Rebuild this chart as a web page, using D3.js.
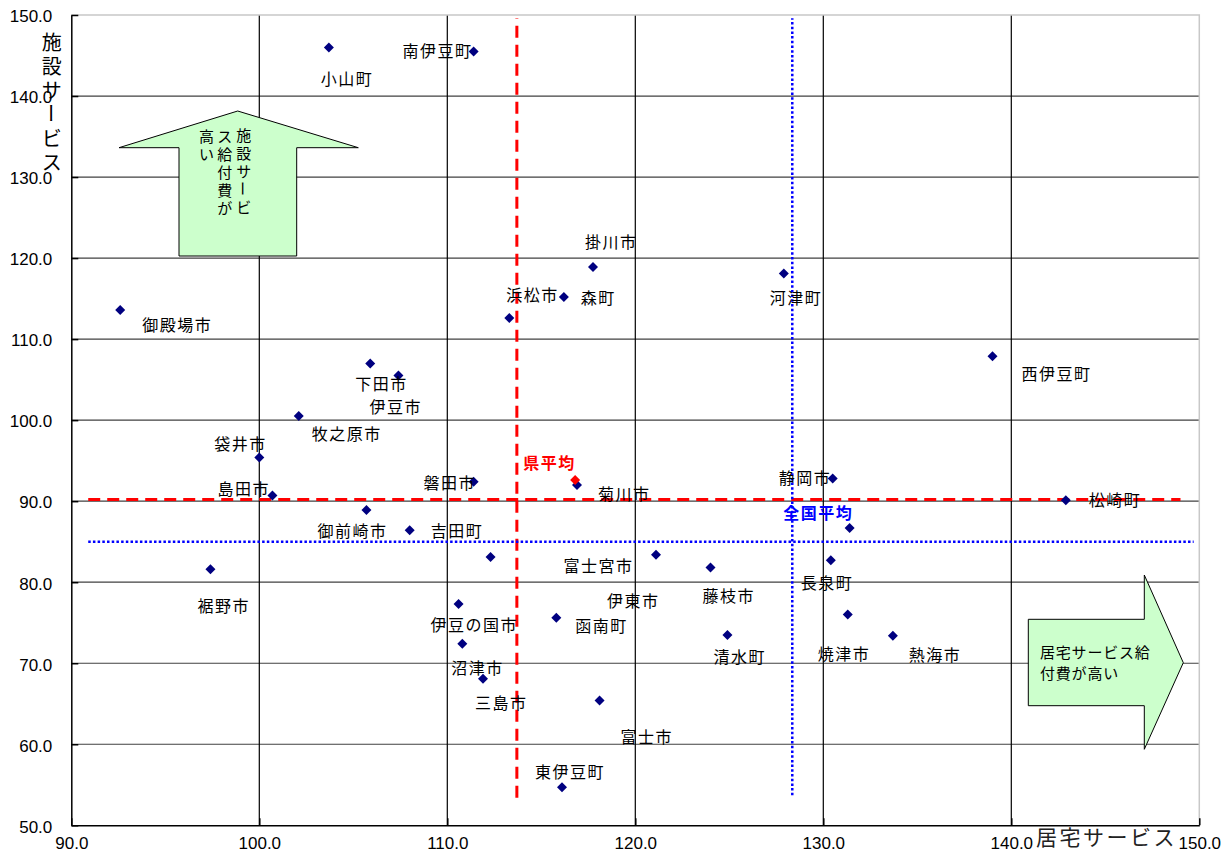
<!DOCTYPE html>
<meta charset="utf-8">
<style>
body { margin: 0; background: #fff; }
.tick text { font: 17px "Liberation Sans", Arial, sans-serif; fill: #000; }
.lbl { font: 16px "Noto Sans CJK JP", sans-serif; letter-spacing: 1.5px; fill: #000; }
.jp { font-family: "Noto Sans CJK JP", sans-serif; fill: #000; }
</style>
<svg width="1231" height="854"></svg>
<script src="https://d3js.org/d3.v7.min.js"></script>
<script>

// 市町名、居宅サービス給付費(指数)、施設サービス給付費(指数)
var names = ["小山町","南伊豆町","掛川市","河津町","森町","浜松市","御殿場市","下田市","伊豆市",
  "牧之原市","袋井市","島田市","御前崎市","吉田町","裾野市","磐田市","菊川市","静岡市","松崎町",
  "西伊豆町","長泉町","富士宮市","伊東市","藤枝市","伊豆の国市","函南町","沼津市","三島市","富士市",
  "東伊豆町","清水町","焼津市","熱海市",""];
var kyotaku = [103.7,111.4,117.75,127.9,116.2,113.3,92.6,105.9,107.4,
  102.1,100.0,100.7,105.7,108.0,97.4,111.4,116.9,130.5,142.9,
  139.0,130.4,112.3,121.1,124.0,110.6,115.8,110.8,111.9,118.1,
  116.1,124.9,131.3,133.7,131.4];
var shisetsu = [146.0,145.5,118.9,118.1,115.2,112.6,113.6,107.0,105.5,
  100.5,95.4,90.7,88.9,86.4,81.6,92.4,92.0,92.8,90.1,
  107.9,82.7,83.1,83.4,81.8,77.3,75.6,72.4,68.1,65.4,
  54.7,73.5,76.0,73.4,86.7];

// 県平均の点と平均線
var prefPoint = [116.8, 92.6];
var prefAvg = [113.7, 90.2];
var prefLineX = [90.9, 149.0];   // 横線の範囲
var prefLineY = [53.4, 149.6];   // 縦線の範囲
var natAvg = [128.35, 85.0];
var natLineX = [90.9, 149.7];
var natLineY = [53.7, 149.6];

var xTicks = [90,100,110,120,130,140,150];
var yTicks = [50,60,70,80,90,100,110,120,130,140,150];

// label placement (pixels from the point) - done by hand like the original
var labelOffsets = [[-8,39],[-71,7],[-8,-18],[-14,32],[17,8],[-3,-16],[22,22],[-15,28],[-29,38],
  [13,25],[-45,-6],[-55,0],[-49,28],[21,8],[-13,44],[-50,8],[21,16],[-54,7],[23,7],
  [29,25],[-30,30],[73,16],[-49,53],[-8,35],[-28,28],[19,15],[-11,31],[-8,31],[21,43],
  [-27,-8],[-14,29],[-30,46],[16,26],[0,0]];

var svg = d3.select("svg");
var x = d3.scaleLinear().domain([90,150]).range([71.3,1199.3]);
var y = d3.scaleLinear().domain([50,150]).range([825.3,15]);

// grid
svg.append("g").selectAll("line").data(yTicks.slice(1,-1)).enter().append("line")
  .attr("x1", x(90)).attr("x2", x(150))
  .attr("y1", function(d){ return y(d); }).attr("y2", function(d){ return y(d); })
  .attr("stroke", "#404040").attr("stroke-width", 1.2);
svg.append("g").selectAll("line").data(xTicks.slice(1,-1)).enter().append("line")
  .attr("y1", y(50)).attr("y2", y(150))
  .attr("x1", function(d){ return x(d); }).attr("x2", function(d){ return x(d); })
  .attr("stroke", "#000").attr("stroke-width", 1.2);
// top / right border
svg.append("path")
  .attr("d", "M" + x(90) + "," + y(150) + "H" + x(150) + "V" + y(50))
  .attr("fill", "none").attr("stroke", "#c8c8c8").attr("stroke-width", 1.5);

// axes
var fmt = d3.format(".1f");
var yAxis = svg.append("g").attr("transform", "translate(" + x(90) + ",0)")
  .call(d3.axisLeft(y).tickValues(yTicks).tickFormat(fmt).tickSizeInner(-7).tickSizeOuter(0).tickPadding(19));
var xAxis = svg.append("g").attr("transform", "translate(0," + y(50) + ")")
  .call(d3.axisBottom(x).tickValues(xTicks).tickFormat(fmt).tickSizeInner(-7).tickSizeOuter(0).tickPadding(12));
[yAxis, xAxis].forEach(function(a){
  a.select(".domain").attr("stroke", "#000").attr("stroke-width", 1.5);
  a.selectAll(".tick line").attr("stroke", "#000").attr("stroke-width", 1.5);
});
yAxis.selectAll(".tick text").attr("dy", "0.4em");

// arrows
var upArrow = [[237.7,111],[358.3,147.7],[296.7,147.7],[296.7,256],[179,256],[179,147.7],[119,147.7]];
var rightArrow = [[1183.3,662.7],[1144.3,749.3],[1144.3,705.7],[1028.3,705.7],[1028.3,619.3],[1144.3,619.3],[1144.3,575]];
[upArrow, rightArrow].forEach(function(p){
  svg.append("path").attr("d", "M" + p.join("L") + "Z")
    .attr("fill", "#ccffcc").attr("stroke", "#000").attr("stroke-width", 1);
});

// vertical text helper
function vtext(str, cx, top, step, size) {
  var g = svg.append("g");
  Array.from(str).forEach(function(ch, i) {
    var cy = top + step * i + size / 2;
    var t = g.append("text").attr("class", "jp")
      .attr("x", cx).attr("y", cy)
      .attr("text-anchor", "middle").attr("dominant-baseline", "central")
      .style("font-size", size + "px").text(ch);
    if (ch == "ー") t.attr("transform", "rotate(90," + cx + "," + cy + ")");
  });
}
vtext("施設サービ", 243.7, 127, 18, 15);
vtext("ス給付費が", 224.8, 128, 18, 15);
vtext("高い", 206.5, 128, 18, 15);

svg.append("text").attr("class", "jp").attr("x", 1040).attr("y", 658)
  .style("font-size", "15px").style("letter-spacing", "0.8px").text("居宅サービス給");
svg.append("text").attr("class", "jp").attr("x", 1040).attr("y", 679)
  .style("font-size", "15px").style("letter-spacing", "0.8px").text("付費が高い");

// axis titles
vtext("施設サービス", 51.7, 31, 24, 20);
svg.append("text").attr("class", "jp").attr("x", 1036).attr("y", 845)
  .style("font-size", "21px").style("letter-spacing", "2.5px").style("fill", "#222").text("居宅サービス");

// average lines
svg.append("line").attr("x1", x(prefAvg[0])).attr("x2", x(prefAvg[0]))
  .attr("y1", y(prefLineY[0])).attr("y2", y(prefLineY[1]))
  .attr("stroke", "#ff0000").attr("stroke-width", 3).attr("stroke-dasharray", "12,7");
svg.append("line").attr("x1", x(prefLineX[0])).attr("x2", x(prefLineX[1]))
  .attr("y1", y(prefAvg[1])).attr("y2", y(prefAvg[1]))
  .attr("stroke", "#ff0000").attr("stroke-width", 3).attr("stroke-dasharray", "12,7");
svg.append("line").attr("x1", x(natAvg[0])).attr("x2", x(natAvg[0]))
  .attr("y1", y(natLineY[0])).attr("y2", y(natLineY[1]))
  .attr("stroke", "#0000ff").attr("stroke-width", 2.5).attr("stroke-dasharray", "2.5,2.2");
svg.append("line").attr("x1", x(natLineX[0])).attr("x2", x(natLineX[1]))
  .attr("y1", y(natAvg[1])).attr("y2", y(natAvg[1]))
  .attr("stroke", "#0000ff").attr("stroke-width", 2.5).attr("stroke-dasharray", "2.5,2.2");

// points
var diamond = d3.symbol().type(d3.symbolSquare).size(50);
svg.append("g").selectAll("path").data(names).enter().append("path")
  .attr("d", diamond)
  .attr("transform", function(d, i) { return "translate(" + x(kyotaku[i]) + "," + y(shisetsu[i]) + ") rotate(45)"; })
  .attr("fill", "#000080");
svg.append("path").attr("d", diamond)
  .attr("transform", "translate(" + x(prefPoint[0]) + "," + y(prefPoint[1]) + ") rotate(45)")
  .attr("fill", "#ff0000");

// labels
svg.append("g").selectAll("text").data(names).enter().append("text")
  .attr("class", "lbl")
  .attr("x", function(d, i) { return x(kyotaku[i]) + labelOffsets[i][0]; })
  .attr("y", function(d, i) { return y(shisetsu[i]) + labelOffsets[i][1] - 1; })
  .text(function(d) { return d; });

svg.append("text").attr("class", "lbl")
  .attr("x", x(prefPoint[0]) - 52).attr("y", y(prefPoint[1]) - 11)
  .style("fill", "#ff0000").style("font-weight", "bold").text("県平均");
svg.append("text").attr("class", "lbl")
  .attr("x", x(natAvg[0]) - 9).attr("y", y(natAvg[1]) - 23)
  .style("fill", "#0000ff").style("font-weight", "bold").text("全国平均");

</script>
